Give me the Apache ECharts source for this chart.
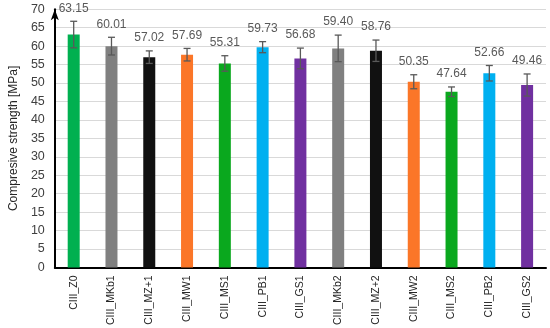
<!DOCTYPE html>
<html><head><meta charset="utf-8">
<script src="https://cdn.jsdelivr.net/npm/echarts@6/dist/echarts.min.js"></script>
<style>html,body{margin:0;padding:0;background:#fff}#c{width:550px;height:328px}</style>
</head><body><div id="c"></div>
<script>
const categories = ['CIII_Z0','CIII_MKb1','CIII_MZ+1','CIII_MW1','CIII_MS1','CIII_PB1','CIII_GS1','CIII_MKb2','CIII_MZ+2','CIII_MW2','CIII_MS2','CIII_PB2','CIII_GS2'];
const values = [63.15,60.01,57.02,57.69,55.31,59.73,56.68,59.40,58.76,50.35,47.64,52.66,49.46];
const errors = [3.6,2.4,1.7,1.7,2.1,1.5,2.8,3.6,2.9,1.9,1.3,2.1,3.0];
const barColors = ['#00B050','#808080','#111111','#FB7628','#0AA81E','#00B0F0','#7030A0','#808080','#111111','#FB7628','#0AA81E','#00B0F0','#7030A0'];
const yAxisTitle = 'Compresive strength [MPa]';

const chart = echarts.init(document.getElementById('c'));
const font = 'Liberation Sans, Arial, sans-serif';
chart.setOption({
  animation: false,
  grid: {left: 44, right: 4, top: 9.3, bottom: 60},
  xAxis: {
    type: 'category', data: categories,
    axisLine: {lineStyle: {color: '#000', width: 2}},
    axisTick: {show: false},
    axisLabel: {rotate: 90, fontSize: 10.5, color: '#262626', fontFamily: font, margin: 8}
  },
  yAxis: {
    type: 'value', min: 0, max: 70, interval: 5,
    name: yAxisTitle, nameLocation: 'middle', nameGap: 30,
    nameTextStyle: {fontSize: 12, color: '#262626', fontFamily: font},
    axisLine: {show: true, lineStyle: {color: '#000', width: 2}, symbol: ['none','arrow'], symbolSize: [6, 11]},
    axisTick: {show: false},
    splitLine: {lineStyle: {color: '#d9d9d9', width: 1}},
    axisLabel: {fontSize: 12.5, color: '#404040', fontFamily: font, margin: 10}
  },
  series: [
    {
      type: 'bar', barWidth: 12,
      data: values.map((v, i) => ({value: v, itemStyle: {color: barColors[i]}}))
    },
    {
      type: 'custom',
      data: values.map((v, i) => [i, v, errors[i]]),
      z: 10,
      renderItem: function (params, api) {
        const i = api.value(0), v = api.value(1), e = api.value(2);
        const top = api.coord([i, v + e]);
        const bot = api.coord([i, v - e]);
        const cap = 3.5;
        const st = {stroke: '#595959', lineWidth: 1.3};
        return {
          type: 'group',
          children: [
            {type: 'line', shape: {x1: top[0], y1: top[1], x2: bot[0], y2: bot[1]}, style: st},
            {type: 'line', shape: {x1: top[0]-cap, y1: top[1], x2: top[0]+cap, y2: top[1]}, style: st},
            {type: 'line', shape: {x1: bot[0]-cap, y1: bot[1], x2: bot[0]+cap, y2: bot[1]}, style: st},
            {type: 'text', x: top[0], y: top[1] - 7,
             style: {text: v.toFixed(2), fill: '#595959', font: '12px ' + font, textAlign: 'center', textVerticalAlign: 'bottom'}}
          ]
        };
      }
    }
  ]
});
</script></body></html>
